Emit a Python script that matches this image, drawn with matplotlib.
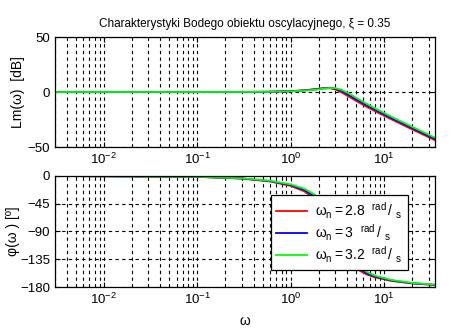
import matplotlib
matplotlib.use('Agg')
import matplotlib.pyplot as plt
from matplotlib.ticker import LogLocator, NullFormatter, FixedLocator

plt.rcParams['font.family'] = ['Liberation Sans', 'DejaVu Sans']
plt.rcParams['mathtext.fontset'] = 'custom'
plt.rcParams['mathtext.rm'] = 'Liberation Sans'
plt.rcParams['mathtext.it'] = 'Liberation Sans'

w = [0.003, 0.1, 0.3, 0.6, 1.0, 1.4, 1.8, 2.2, 2.6, 3.0, 3.5, 4.2, 5.0, 6.5, 8.0, 12.0, 20.0, 35.0]

# Lm(w) [dB]
lm_28 = [0.0, 0.01, 0.08, 0.30, 0.84, 1.64, 2.62, 3.48, 3.55, 2.33, -0.34, -4.26, -8.03, -13.41, -17.43, -24.92, -34.03, -43.83]
lm_30 = [0.0, 0.01, 0.07, 0.26, 0.73, 1.44, 2.32, 3.21, 3.67, 3.10, 0.98, -2.75, -6.55, -12.03, -16.11, -23.67, -32.81, -42.63]
lm_32 = [0.0, 0.01, 0.06, 0.23, 0.65, 1.26, 2.06, 2.93, 3.58, 3.51, 2.04, -1.36, -5.15, -10.72, -14.86, -22.49, -31.67, -41.50]

# phase [deg]
ph_28 = [0.0, -1.4, -4.3, -8.9, -16.0, -25.0, -37.5, -55.2, -78.0, -101.2, -122.7, -140.0, -150.3, -159.7, -164.4, -170.2, -174.3, -176.8]
ph_30 = [0.0, -1.3, -4.0, -8.3, -14.7, -22.7, -33.3, -48.0, -67.7, -90.0, -113.9, -134.4, -146.7, -157.7, -163.0, -169.4, -173.9, -176.5]
ph_32 = [0.0, -1.3, -3.8, -7.8, -13.6, -20.7, -29.9, -42.4, -59.1, -79.6, -104.4, -128.2, -142.8, -155.5, -161.6, -168.6, -173.4, -176.3]

labels = [r'$\mathregular{\omega_n = 2.8\ \ ^{rad}\,/\ _s}$',
          r'$\mathregular{\omega_n = 3\ \ ^{rad}\,/\ _s}$',
          r'$\mathregular{\omega_n = 3.2\ \ ^{rad}\,/\ _s}$']
colors = ['#ff0000', '#0000ff', '#00ff00']

fig = plt.figure(figsize=(4.61, 3.30), dpi=100)
ax1 = fig.add_axes([0.1193, 0.5545, 0.8243, 0.3333])
ax2 = fig.add_axes([0.1193, 0.1303, 0.8243, 0.3364])

for y, c in zip([lm_28, lm_30, lm_32], colors):
    ax1.semilogx(w, y, color=c, lw=1.3)
for y, c, l in zip([ph_28, ph_30, ph_32], colors, labels):
    ax2.semilogx(w, y, color=c, lw=1.3, label=l)

for ax in (ax1, ax2):
    ax.set_xlim(0.003, 35)
    ax.xaxis.set_major_locator(FixedLocator([0.01, 0.1, 1, 10]))
    ax.xaxis.set_minor_locator(LogLocator(base=10, subs=range(2, 10), numticks=20))
    ax.xaxis.set_minor_formatter(NullFormatter())
    ax.grid(True, which='both', axis='x', color='k', ls=(0, (3, 3)), lw=0.8)
    ax.grid(True, which='major', axis='y', color='k', ls=(0, (3, 3)), lw=0.8)
    ax.tick_params(which='both', direction='in', top=True, right=True, labelsize=9.5)
    for s in ax.spines.values():
        s.set_linewidth(0.9)

ax1.set_ylim(-50, 50)
ax1.set_yticks([-50, 0, 50])
ax1.set_ylabel('Lm(ω)  [dB]', fontsize=10, labelpad=2)
ax1.set_title('Charakterystyki Bodego obiektu oscylacyjnego, ξ = 0.35', fontsize=8.5, pad=7)

ax2.set_ylim(-180, 0)
ax2.set_yticks([0, -45, -90, -135, -180])
ax2.set_ylabel('φ(ω ) [º]', fontsize=10, labelpad=0)
ax2.set_xlabel('ω', fontsize=10, labelpad=5)

leg = ax2.legend(loc='upper left', bbox_to_anchor=(0.55, 0.89), fontsize=10,
                 fancybox=False, framealpha=1, edgecolor='k', handlelength=2.2,
                 borderpad=0.4, labelspacing=0.12, handletextpad=0.6)
leg.get_frame().set_linewidth(0.9)

fig.savefig('out.png', dpi=100)
